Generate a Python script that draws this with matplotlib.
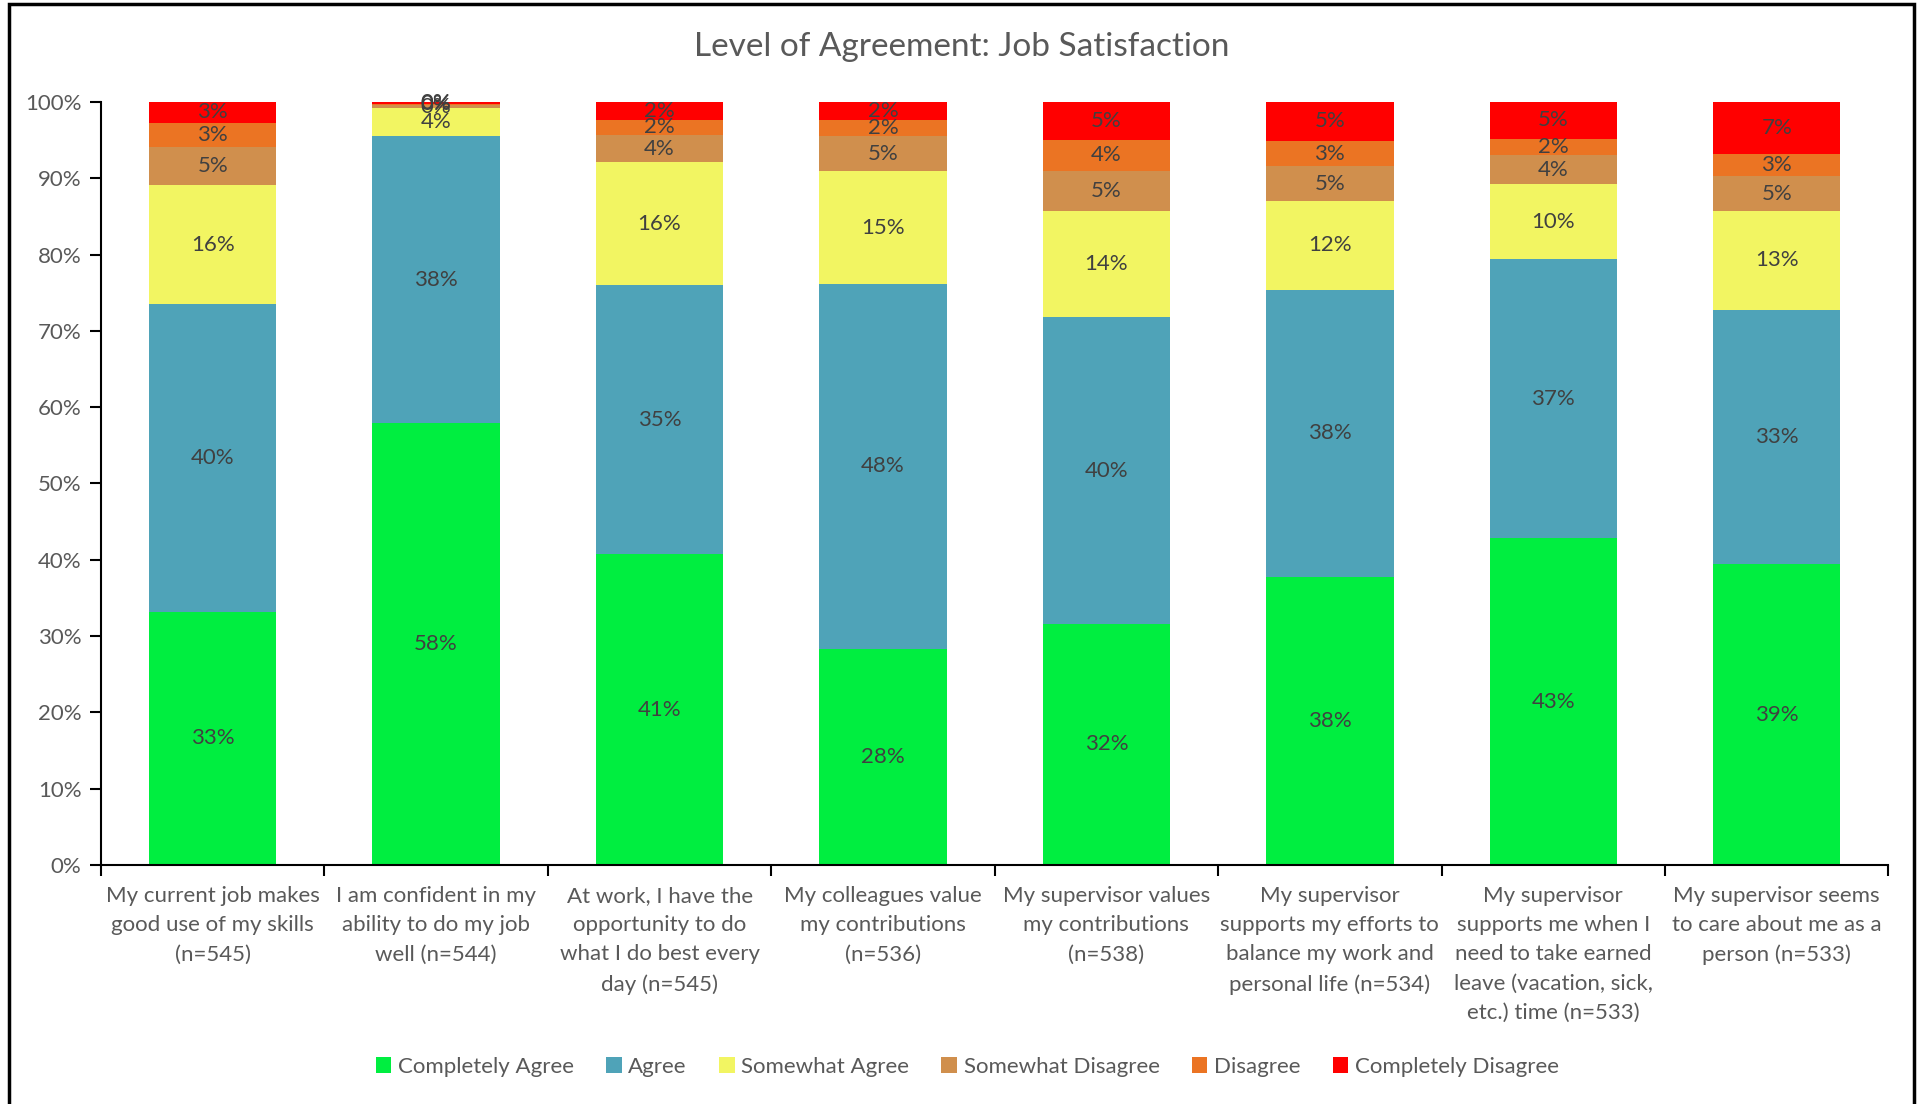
import matplotlib.pyplot as plt
from matplotlib.patches import Rectangle

plt.rcParams["font.family"] = ["Lato", "DejaVu Sans"]

# ----------------------------------------------------------
# data
# ----------------------------------------------------------
categories = [
    "My current job makes\ngood use of my skills\n(n=545)",
    "I am confident in my\nability to do my job\nwell (n=544)",
    "At work, I have the\nopportunity to do\nwhat I do best every\nday (n=545)",
    "My colleagues value\nmy contributions\n(n=536)",
    "My supervisor values\nmy contributions\n(n=538)",
    "My supervisor\nsupports my efforts to\nbalance my work and\npersonal life (n=534)",
    "My supervisor\nsupports me when I\nneed to take earned\nleave (vacation, sick,\netc.) time (n=533)",
    "My supervisor seems\nto care about me as a\nperson (n=533)",
]

series_names = ["Completely Agree", "Agree", "Somewhat Agree",
                "Somewhat Disagree", "Disagree", "Completely Disagree"]

completely_agree    = [33.2, 57.9, 40.7, 28.3, 31.6, 37.8, 42.8, 39.4]
agree               = [40.3, 37.6, 35.3, 47.9, 40.2, 37.6, 36.6, 33.4]
somewhat_agree      = [15.6, 3.7, 16.1, 14.7, 13.9, 11.6, 9.8, 12.9]
somewhat_disagree   = [5.0, 0.4, 3.6, 4.6, 5.3, 4.6, 3.9, 4.6]
disagree            = [3.2, 0.2, 2.0, 2.2, 4.0, 3.3, 2.1, 2.9]
completely_disagree = [2.7, 0.2, 2.3, 2.3, 5.0, 5.1, 4.8, 6.8]

colors = ["#00EE40", "#4FA3B8", "#F2F562", "#D08F4D", "#EB7423", "#FF0000"]

yticks = [0, 10, 20, 30, 40, 50, 60, 70, 80, 90, 100]

# ----------------------------------------------------------
# figure
# ----------------------------------------------------------
fig = plt.figure(figsize=(19.27, 11.04), dpi=100)
ax = fig.add_axes([0.0524, 0.2165, 0.9276, 0.6911])

series = [completely_agree, agree, somewhat_agree,
          somewhat_disagree, disagree, completely_disagree]
x = list(range(len(categories)))
bottom = [0.0] * len(categories)
for name, vals, col in zip(series_names, series, colors):
    bars = ax.bar(x, vals, width=0.57, bottom=bottom, color=col,
                  label=name, linewidth=0)
    ax.bar_label(bars, labels=[f"{round(v):.0f}%" for v in vals],
                 label_type="center", fontsize=16, color="#404040")
    bottom = [b + v for b, v in zip(bottom, vals)]

ax.set_xlim(-0.5, len(categories) - 0.5)
ax.set_ylim(0, 100)
ax.set_yticks(yticks)
ax.set_yticklabels([f"{t}%" for t in yticks])
ax.set_xticks(x)
ax.set_xticklabels(categories, fontsize=16, color="#595959", linespacing=1.58)
ax.set_xticks([i - 0.5 for i in range(len(categories) + 1)], minor=True)
ax.tick_params(axis="x", which="major", length=0, pad=15)
ax.tick_params(axis="x", which="minor", length=8, width=1.5, direction="out")
ax.tick_params(axis="y", length=8, width=1.5, labelsize=16,
               labelcolor="#595959", pad=6)

for s in ["top", "right"]:
    ax.spines[s].set_visible(False)
ax.spines["left"].set_linewidth(1.5)
ax.spines["bottom"].set_linewidth(1.5)

fig.text(0.499, 0.957, "Level of Agreement: Job Satisfaction",
         ha="center", va="center", fontsize=24, color="#595959")

fig.legend(loc="center", bbox_to_anchor=(0.502, 0.0335), ncol=6,
           frameon=False, fontsize=16, handlelength=0.7, handleheight=0.7,
           handletextpad=0.3, columnspacing=1.45, labelcolor="#595959")

# chart border
fig.add_artist(Rectangle((0.0047, -0.05), 0.9886, 1.0464,
                         transform=fig.transFigure, fill=False,
                         edgecolor="black", linewidth=2.5))

fig.savefig("out.png", dpi=100)
